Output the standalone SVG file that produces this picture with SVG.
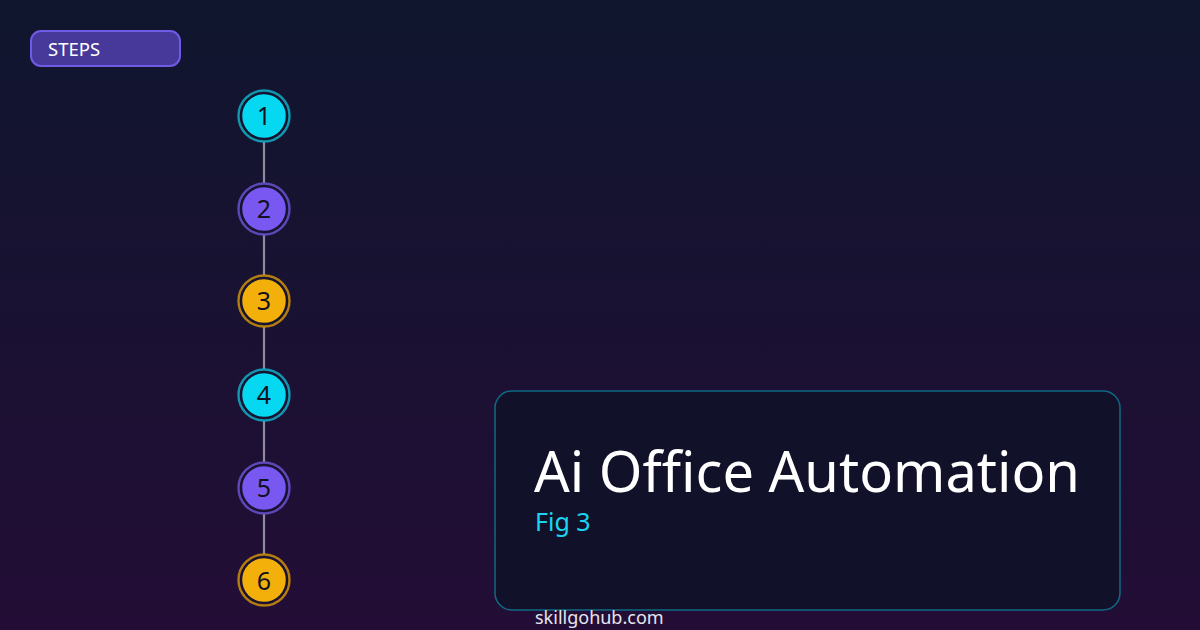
<svg xmlns="http://www.w3.org/2000/svg" width="1200" height="630" viewBox="0 0 1200 630">
<defs>
<linearGradient id="bg" x1="0" y1="0" x2="0" y2="1">
<stop offset="0" stop-color="#10162e"/>
<stop offset="1" stop-color="#230d36"/>
</linearGradient>
<style>
.num{font-family:"Noto Sans","Open Sans",sans-serif;font-size:25px;fill:#111122;text-anchor:middle}
.conn{stroke:#8e8a9e;stroke-width:2.2;fill:none}
.ring{fill:none;stroke-width:2.4;stroke-opacity:0.8}
.core{stroke:#161530;stroke-width:1.5}
.cyan .ring{stroke:#10b8d0}.cyan .core{fill:#06d8f2}
.purple .ring{stroke:#6e55d8}.purple .core{fill:#7858f0}
.amber .ring{stroke:#d99a08}.amber .core{fill:#f4b00a}
</style>
</defs>
<rect width="1200" height="630" fill="url(#bg)"/>
<g id="steps-label">
<rect x="31" y="31" width="149" height="35" rx="10" fill="#47399a" stroke="#6f5ce6" stroke-width="2"/>
<text x="48" y="55.5" font-family="Noto Sans,Open Sans,sans-serif" font-size="18.5" fill="#ffffff">STEPS</text>
</g>
<g id="connectors">
<line class="conn" x1="264" y1="142" x2="264" y2="183"/>
<line class="conn" x1="264" y1="235" x2="264" y2="275"/>
<line class="conn" x1="264" y1="327" x2="264" y2="369"/>
<line class="conn" x1="264" y1="421" x2="264" y2="462"/>
<line class="conn" x1="264" y1="514" x2="264" y2="554"/>
</g>
<g id="step1" class="cyan"><circle class="ring" cx="264" cy="116" r="25.5"/><circle class="core" cx="264" cy="116" r="22.5"/><text class="num" x="264" y="125">1</text></g>
<g id="step2" class="purple"><circle class="ring" cx="264" cy="209" r="25.5"/><circle class="core" cx="264" cy="209" r="22.5"/><text class="num" x="264" y="218">2</text></g>
<g id="step3" class="amber"><circle class="ring" cx="264" cy="301" r="25.5"/><circle class="core" cx="264" cy="301" r="22.5"/><text class="num" x="264" y="310">3</text></g>
<g id="step4" class="cyan"><circle class="ring" cx="264" cy="395" r="25.5"/><circle class="core" cx="264" cy="395" r="22.5"/><text class="num" x="264" y="404">4</text></g>
<g id="step5" class="purple"><circle class="ring" cx="264" cy="488" r="25.5"/><circle class="core" cx="264" cy="488" r="22.5"/><text class="num" x="264" y="497">5</text></g>
<g id="step6" class="amber"><circle class="ring" cx="264" cy="580" r="25.5"/><circle class="core" cx="264" cy="580" r="22.5"/><text class="num" x="264" y="590">6</text></g>
<g id="title-card">
<rect x="495" y="391" width="625" height="219" rx="17" fill="#12112a" stroke="#0f6a82" stroke-width="1.5"/>
<text x="534" y="492" font-family="Noto Sans,Open Sans,sans-serif" font-size="56" fill="#ffffff">Ai Office Automation</text>
<text x="535" y="531" font-family="Noto Sans,Open Sans,sans-serif" font-size="25" fill="#1ad4f0">Fig 3</text>
</g>
<text x="535" y="624" font-family="Noto Sans,Open Sans,sans-serif" font-size="18" fill="#e6e6ee">skillgohub.com</text>
</svg>
